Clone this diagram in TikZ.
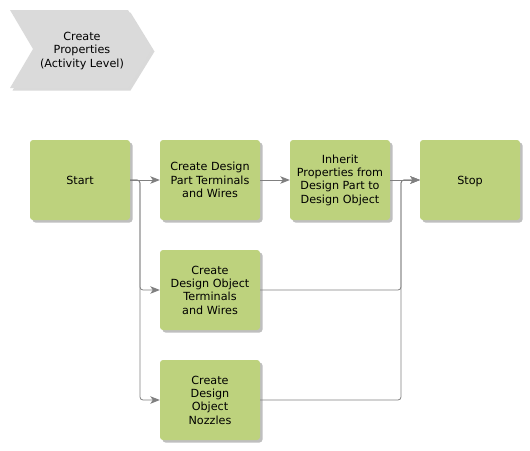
\documentclass[tikz,border=0pt]{standalone}
\usepackage{fontspec}
\setmainfont{DejaVu Sans}
\usetikzlibrary{arrows.meta,shadows}
\definecolor{boxgreen}{RGB}{189,210,125}
\definecolor{chevgray}{RGB}{218,218,218}
\definecolor{linegray}{RGB}{128,128,128}
\tikzset{
  stepbox/.style={rectangle, rounded corners=3pt, fill=boxgreen, minimum width=100pt, minimum height=80pt,
    inner sep=0pt, align=center, font=\fontsize{11.2}{13.3}\selectfont,
    drop shadow={shadow xshift=2.5pt, shadow yshift=-2.5pt, fill=black, opacity=0.25}},
  conn/.style={draw=linegray, line width=0.8pt, rounded corners=3pt},
  arr/.style={conn, -{Stealth[length=9.5pt,width=7.5pt,inset=2.5pt]}, color=linegray}
}
\begin{document}
\begin{tikzpicture}[x=1pt,y=-1pt]
\useasboundingbox (0,0) rectangle (530,450);
% chevron
\fill[black,opacity=0.15] (12.5,12.5) -- (130.5,12.5) -- (154.5,51.5) -- (130.5,90.5) -- (12.5,90.5) -- (35.5,51.5) -- cycle;
\fill[chevgray] (10,10) -- (128,10) -- (152,49) -- (128,88) -- (10,88) -- (33,49) -- cycle;
\node[align=center, font=\fontsize{11.2}{13.3}\selectfont] (title) at (82,51) {Create\\Properties\\(Activity Level)};
% boxes
\node[stepbox] (start) at (80,180) {\raisebox{0pt}[\height][0pt]{Start}};
\node[stepbox] (b2) at (210,180) {Create Design\\Part Terminals\\and Wires};
\node[stepbox] (b3) at (340,180) {Inherit\\Properties from\\Design Part to\\Design Object};
\node[stepbox] (stop) at (470,180) {\raisebox{0pt}[\height][0pt]{Stop}};
\node[stepbox] (b5) at (210,290) {Create\\Design Object\\Terminals\\and Wires};
\node[stepbox] (b6) at (210,400) {Create\\Design\\Object\\Nozzles};
\coordinate (split) at (140,180);
\coordinate (join) at (401,180);
% connectors
\draw[arr] (start.east) -- (b2.west);
\draw[arr] (b2.east) -- (b3.west);
\draw[arr] (b3.east) -- (stop.west);
\draw[arr] (start.east) -| (split |- b5.west) -- (b5.west);
\draw[arr] (start.east) -| (split |- b6.west) -- (b6.west);
\draw[arr] (b5.east) -| (join) -- (stop.west);
\draw[arr] (b6.east) -| (join) -- (stop.west);
\end{tikzpicture}
\end{document}
